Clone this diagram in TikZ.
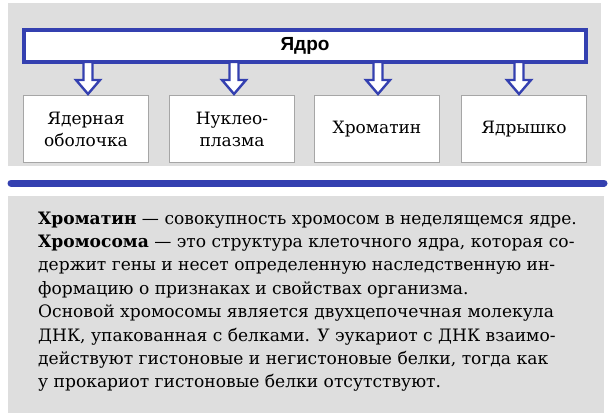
\documentclass[tikz,border=0pt]{standalone}
\usepackage{fontspec}
\setmainfont{DejaVu Serif}
\newfontfamily\headfont{Liberation Sans}
\usetikzlibrary{positioning}
\definecolor{bluebar}{RGB}{52,64,176}
\definecolor{paper}{RGB}{222,222,222}
\tikzset{
  partbox/.style={draw=gray!70,fill=white,minimum width=125pt,minimum height=67pt,align=center,font=\fontsize{17}{22}\selectfont},
  textline/.style={anchor=base west,inner sep=0pt,font=\fontsize{17.1}{18}\selectfont},
}
\newcommand{\hollowarrow}[2]{% x, top y
  \draw[bluebar,line width=2.4pt,fill=white,line join=miter]
    (#1-4.5,#2) -- (#1+4.5,#2) -- (#1+4.5,#2+18) -- (#1+12,#2+18) -- (#1,#2+32)
    -- (#1-12,#2+18) -- (#1-4.5,#2+18) -- cycle;}
\begin{document}
\begin{tikzpicture}[x=1pt,y=-1pt]
  \useasboundingbox (0,0) rectangle (610,413);
  \fill[white] (0,0) rectangle (610,413);
  % upper panel
  \fill[paper] (8,3) rectangle (601,166);
  \node[draw=bluebar,line width=4pt,fill=white,minimum width=562pt,minimum height=32pt,
        font=\headfont\bfseries\fontsize{19}{22}\selectfont] (core) at (305,46) {Ядро};
  \node[partbox] (env)  at (86,129)  {Ядерная\\оболочка};
  \node[partbox] (plasm) at (232,129) {Нуклео-\\плазма};
  \node[partbox] (chrom) at (377,129) {Хроматин};
  \node[partbox] (nucl) at (524,129) {Ядрышко};
  \hollowarrow{88}{62}
  \hollowarrow{234}{62}
  \hollowarrow{378}{62}
  \hollowarrow{519}{62}
  % divider
  \draw[bluebar,line width=7pt,line cap=round] (11,183) -- (604,183);
  % lower panel
  \fill[paper] (8,196) rectangle (604,413);
  \node[textline] (l1) at (38,224) {\textbf{Хроматин} — совокупность хромосом в неделящемся ядре.};
  \node[textline] (l2) at (38,247) {\textbf{Хромосома} — это структура клеточного ядра, которая со-};
  \node[textline] (l3) at (38,270) {держит гены и несет определенную наследственную ин-};
  \node[textline] (l4) at (38,294) {формацию о признаках и свойствах организма.};
  \node[textline] (l5) at (38,317) {Основой хромосомы является двухцепочечная молекула};
  \node[textline] (l6) at (38,341) {ДНК, упакованная с белками. У эукариот с ДНК взаимо-};
  \node[textline] (l7) at (38,364) {действуют гистоновые и негистоновые белки, тогда как};
  \node[textline] (l8) at (38,387) {у прокариот гистоновые белки отсутствуют.};
\end{tikzpicture}
\end{document}
